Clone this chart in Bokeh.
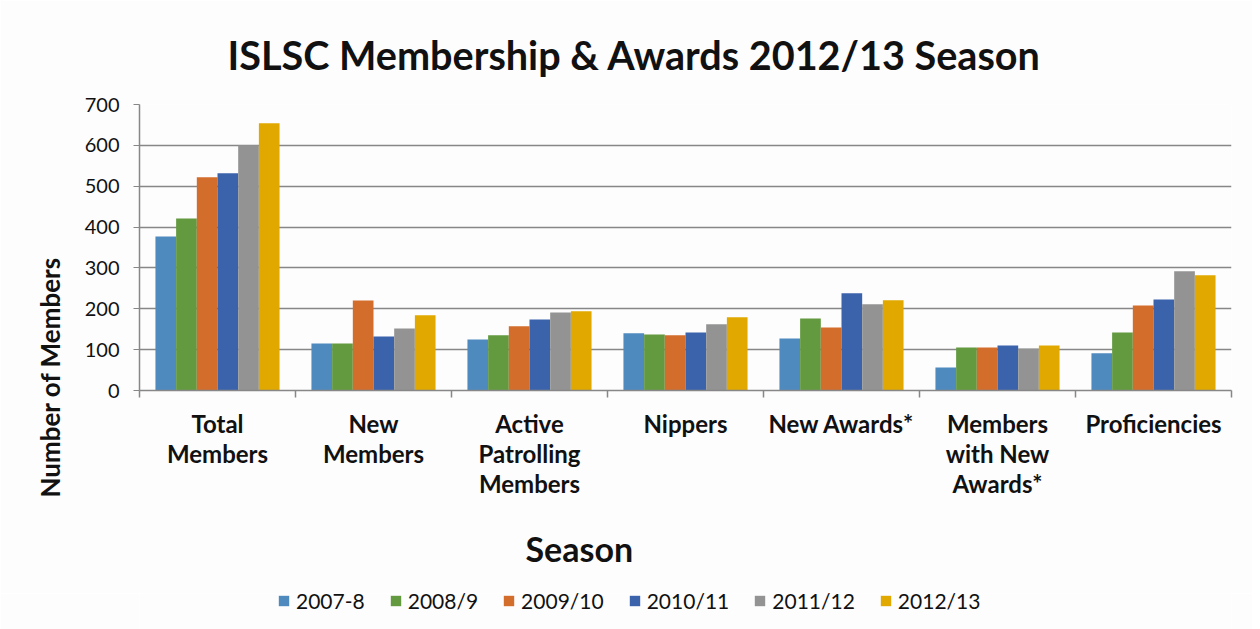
from bokeh.plotting import figure
from bokeh.layouts import column
from bokeh.models import (ColumnDataSource, Range1d, LinearAxis, FixedTicker, Title, Legend,
                          LegendItem)
from bokeh.transform import dodge
from bokeh.embed import file_html
from bokeh.resources import INLINE

categories = ["Total\nMembers", "New\nMembers", "Active\nPatrolling\nMembers", "Nippers",
              "New Awards*", "Members\nwith New\nAwards*", "Proficiencies"]
seasons = ["2007-8", "2008/9", "2009/10", "2010/11", "2011/12", "2012/13"]

s2007_8 = [377, 115, 125, 140, 127, 56, 91]
s2008_9 = [421, 115, 135, 137, 176, 105, 142]
s2009_10 = [522, 220, 157, 135, 154, 105, 208]
s2010_11 = [532, 132, 174, 142, 238, 110, 223]
s2011_12 = [600, 152, 191, 162, 211, 103, 292]
s2012_13 = [654, 184, 194, 179, 221, 110, 282]

series = [s2007_8, s2008_9, s2009_10, s2010_11, s2011_12, s2012_13]
colors = ["#4F8ABE", "#639A3F", "#D36D2B", "#3B63AB", "#939393", "#E1A900"]

FONT = "Lato"
TXT = "#111111"
GRID = "#878787"
BG = "#FDFDFD"

n = len(categories)
centers = [i + 0.5 for i in range(n)]
data = {"x": centers, "cat": categories}
for i, s in enumerate(series):
    data[f"s{i}"] = s
source = ColumnDataSource(data)

p = figure(frame_width=1092, frame_height=286, x_range=Range1d(0, n), y_range=Range1d(0, 700),
           output_backend="svg", toolbar_location=None, x_axis_location=None,
           y_axis_location=None, min_border_left=139, min_border_right=21,
           min_border_top=104, min_border_bottom=200)
p.background_fill_color = BG
p.border_fill_color = BG
p.outline_line_color = None

bar_w = 0.1326
for i, col in enumerate(colors):
    off = (i - 2.5) * bar_w
    p.vbar(x=dodge("x", off), top=f"s{i}", width=bar_w, bottom=0,
           source=source, fill_color=col, line_color=None)

# grid
p.xgrid.grid_line_color = None
p.ygrid.grid_line_color = GRID
p.ygrid.grid_line_width = 1.4
p.ygrid.ticker = FixedTicker(ticks=list(range(0, 701, 100)))

# y axis
yax = LinearAxis(ticker=FixedTicker(ticks=list(range(0, 701, 100))))
yax.axis_line_color = GRID
yax.axis_line_width = 1.5
yax.major_tick_line_color = GRID
yax.major_tick_out = 6
yax.major_tick_in = 0
yax.minor_tick_line_color = None
yax.major_label_text_font = FONT
yax.major_label_text_font_size = "20px"
yax.major_label_text_color = TXT
yax.major_label_standoff = 14
p.add_layout(yax, "left")

# x axis: labels at category centres, minor ticks at category boundaries
xax = LinearAxis(ticker=FixedTicker(ticks=centers, minor_ticks=list(range(0, n + 1))),
                 major_label_overrides={c: lab for c, lab in zip(centers, categories)})
xax.axis_line_color = GRID
xax.axis_line_width = 1.5
xax.major_tick_line_color = None
xax.minor_tick_line_color = GRID
xax.minor_tick_line_width = 1.5
xax.minor_tick_out = 7
xax.minor_tick_in = 0
xax.major_label_text_font = FONT
xax.major_label_text_font_style = "bold"
xax.major_label_text_font_size = "24px"
xax.major_label_text_color = TXT
xax.major_label_text_line_height = 1.05
xax.major_label_standoff = 11
p.add_layout(xax, "below")

# title, axis titles
p.title = Title(text="ISLSC Membership & Awards 2012/13 Season", align="left", offset=88,
                text_font=FONT, text_font_style="bold", text_font_size="39.6px",
                text_color=TXT, standoff=54)
p.add_layout(Title(text="Number of Members", align="left", offset=-107,
                   text_font=FONT, text_font_style="bold", text_font_size="26px",
                   text_color=TXT, standoff=31), "left")
p.add_layout(Title(text="Season", align="left", offset=386,
                   text_font=FONT, text_font_style="bold", text_font_size="34px",
                   text_color=TXT, standoff=49), "below")

# legend strip below the chart (swatch glyphs sit outside the strip's visible range)
lg = figure(width=1252, height=36, x_range=Range1d(0, 1), y_range=Range1d(0, 1),
            output_backend="svg", toolbar_location=None, x_axis_location=None,
            y_axis_location=None, min_border=0)
lg.background_fill_color = BG
lg.border_fill_color = BG
lg.outline_line_color = None
lg.xgrid.grid_line_color = None
lg.ygrid.grid_line_color = None
swatches = [lg.vbar(x=[-5], top=[-4], bottom=[-5], width=0.1, fill_color=col, line_color=None)
            for col in colors]

legend = Legend(items=[LegendItem(label=s, renderers=[r]) for s, r in zip(seasons, swatches)],
                orientation="horizontal", location=(138, 16))
legend.background_fill_alpha = 0
legend.border_line_color = None
legend.label_text_font = FONT
legend.label_text_font_size = "21px"
legend.label_text_color = TXT
legend.glyph_width = 13
legend.glyph_height = 13
legend.label_standoff = 6
legend.spacing = 24
legend.padding = 0
legend.margin = 0
lg.add_layout(legend, "center")

layout = column(p, lg, spacing=0)
open("out.html", "w").write(file_html(layout, INLINE))
